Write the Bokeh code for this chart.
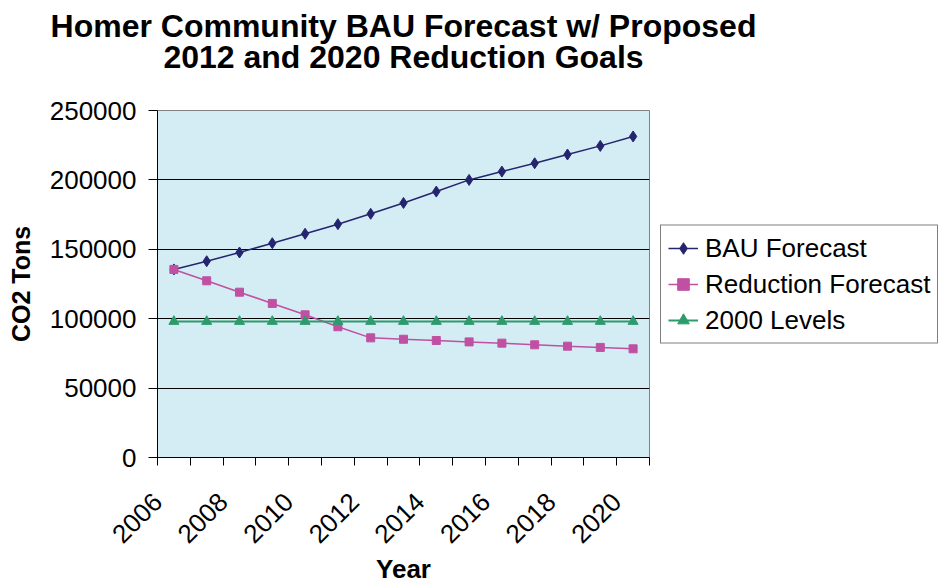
from math import pi

from bokeh.plotting import figure
from bokeh.models import Range1d, FixedTicker, NumeralTickFormatter, Legend, LegendItem, Title
from bokeh.embed import file_html
from bokeh.resources import INLINE

# Annual CO2 emissions for the Homer community (tons)
years = [2006, 2007, 2008, 2009, 2010, 2011, 2012, 2013,
         2014, 2015, 2016, 2017, 2018, 2019, 2020]
bau_forecast = [135500, 141400, 147700, 154400, 161200, 168100, 175600, 183400,
                191600, 200000, 206000, 212000, 218300, 224500, 231300]
reduction_forecast = [135500, 127300, 119100, 111000, 102800, 94200, 86200, 85200,
                      84300, 83300, 82400, 81200, 80200, 79300, 78300]
levels_2000 = [98000, 98000, 98000, 98000, 98000, 98000, 98000, 98000,
               98000, 98000, 98000, 98000, 98000, 98000, 98000]
y_ticks = [0, 50000, 100000, 150000, 200000, 250000]

title_lines = ["Homer Community BAU Forecast w/ Proposed",
               "2012 and 2020 Reduction Goals"]

FONT = "Liberation Sans"

# categories sit in the middle of unit-wide slots
xs = [i + 0.5 for i in range(len(years))]

p = figure(frame_width=492, frame_height=347,
           output_backend="svg", toolbar_location=None,
           x_range=Range1d(0, len(years)), y_range=Range1d(0, 250000),
           min_border_left=157, min_border_right=0,
           min_border_top=110, min_border_bottom=126)

p.background_fill_color = "#D4ECF3"
p.border_fill_color = "white"
p.outline_line_color = "#808080"
p.outline_line_width = 1


def heading(text, standoff):
    t = Title(text=text, align="center", text_font=FONT, text_font_size="32px",
              text_font_style="bold", text_color="black")
    try:
        t.standoff = standoff
    except ValueError:
        t.standoff = 0
    return t


# heading lines: tight line spacing, with a blank row between them and the frame
p.title = heading(title_lines[0], -7.5)
p.add_layout(heading(" ", 1.3), "above")
p.add_layout(heading(title_lines[1], -7.5), "above")

# y axis
p.yaxis.ticker = FixedTicker(ticks=y_ticks)
p.yaxis.formatter = NumeralTickFormatter(format="0")
p.yaxis.major_tick_out = 9
p.yaxis.major_tick_in = 0
p.yaxis.minor_tick_line_color = None
p.yaxis.major_label_standoff = 12
p.yaxis.major_label_text_font = FONT
p.yaxis.major_label_text_font_size = "26px"
p.yaxis.major_label_text_color = "black"
p.yaxis.axis_line_color = "black"
p.yaxis.major_tick_line_color = "black"
p.yaxis.axis_label = "CO2 Tons"
p.yaxis.axis_label_text_font = FONT
p.yaxis.axis_label_text_font_size = "25px"
p.yaxis.axis_label_text_font_style = "bold"
p.yaxis.axis_label_text_color = "black"
p.yaxis.axis_label_standoff = 12

# x axis: a tick between every category, a label on every other year
p.xaxis.ticker = FixedTicker(ticks=list(range(len(years) + 1)))
p.xaxis.major_label_overrides = {
    i: (str(years[i]) if i < len(years) and i % 2 == 0 else "")
    for i in range(len(years) + 1)
}
p.xaxis.major_label_orientation = pi / 4
p.xaxis.major_tick_out = 8
p.xaxis.major_tick_in = 0
p.xaxis.minor_tick_line_color = None
p.xaxis.major_label_standoff = 32
p.xaxis.major_label_text_font = FONT
p.xaxis.major_label_text_font_size = "26px"
p.xaxis.major_label_text_color = "black"
p.xaxis.axis_line_color = "black"
p.xaxis.major_tick_line_color = "black"
p.xaxis.axis_label = "Year"
p.xaxis.axis_label_text_font = FONT
p.xaxis.axis_label_text_font_size = "26px"
p.xaxis.axis_label_text_font_style = "bold"
p.xaxis.axis_label_text_color = "black"
p.xaxis.axis_label_standoff = 0

p.xgrid.grid_line_color = None
p.ygrid.ticker = FixedTicker(ticks=y_ticks[1:-1])
p.ygrid.grid_line_color = "black"
p.ygrid.grid_line_width = 1

# series
BAU_C = "#25256F"
RED_C = "#C050A2"
LVL_C = "#2E9B6C"

l1 = p.line(xs, bau_forecast, line_color=BAU_C, line_width=1.5)
m1 = p.scatter(xs, bau_forecast, marker="diamond", size=11,
               fill_color=BAU_C, line_color=BAU_C)
l2 = p.line(xs, reduction_forecast, line_color=RED_C, line_width=1.5)
m2 = p.scatter(xs, reduction_forecast, marker="square", size=8,
               fill_color=RED_C, line_color=RED_C)
l3 = p.line(xs, levels_2000, line_color=LVL_C, line_width=2.2)
m3 = p.scatter(xs, levels_2000, marker="triangle", size=10,
               fill_color=LVL_C, line_color=LVL_C)

legend = Legend(
    items=[
        LegendItem(label="BAU Forecast", renderers=[l1, m1]),
        LegendItem(label="Reduction Forecast", renderers=[l2, m2]),
        LegendItem(label="2000 Levels", renderers=[l3, m3]),
    ],
    location="center_left",
    orientation="vertical",
    padding=7,
    spacing=5,
    margin=11,
    glyph_width=30,
    glyph_height=29,
    label_height=29,
    label_standoff=7,
    label_text_font=FONT,
    label_text_font_size="26px",
    label_text_color="black",
    border_line_color="black",
    border_line_width=1,
    background_fill_color="white",
    background_fill_alpha=1.0,
)
p.add_layout(legend, "right")

open("out.html", "w").write(file_html(p, INLINE))
